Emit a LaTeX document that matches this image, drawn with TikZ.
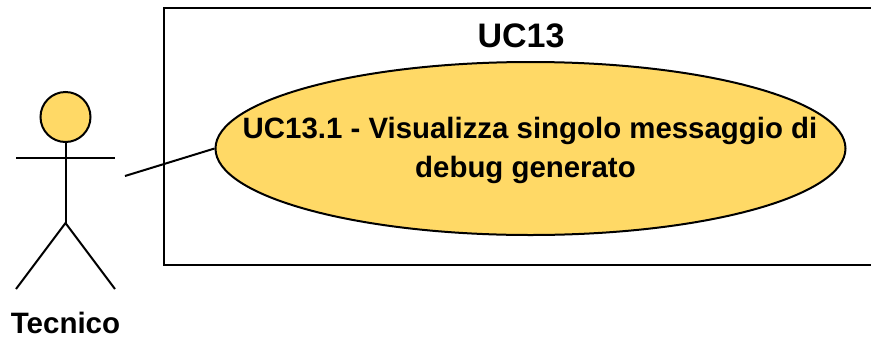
\documentclass[tikz,border=0pt]{standalone}
\usepackage{fontspec}
\setmainfont{Liberation Sans}
\usetikzlibrary{shapes.geometric}
\definecolor{ucfill}{HTML}{FFD966}
\begin{document}
\begin{tikzpicture}[
		x=1pt,
		y=-1pt,
		line width=2pt,
		every node/.style={font=\bfseries, inner sep=0pt},
		actor part/.style={draw=black, fill=ucfill},
		use case/.style={draw=black, fill=ucfill, ellipse, minimum width=630pt, minimum height=173pt},
		case label/.style={align=center, font=\bfseries\fontsize{29.4}{39}\selectfont},
		box label/.style={font=\bfseries\fontsize{34}{40}\selectfont},
		actor label/.style={font=\bfseries\fontsize{29.5}{34}\selectfont}
		]
	\useasboundingbox (0, 0) rectangle (871, 338);
	
	% System box
	\draw (871, 7.5) -- (163.5, 7.5) -- (163.5, 265) -- (871, 265);
	\node[box label] (boxname) at (521, 36) {UC13};
	
	% Actor
	\draw[actor part] (65.5, 117) circle (25);
	\draw (65.5, 142) -- (65.5, 223);
	\draw (16, 158) -- (115, 158);
	\draw (16, 289) -- (65.5, 223) -- (115, 289);
	\node[actor label] (tecnico) at (65.5, 323) {Tecnico};
	\coordinate (actorhand) at (125, 176);
	
	% Use case
	\node[use case] (uc) at (530.5, 148.5) {};
	\node[case label] (uctext) at (530, 150) {UC13.1 - Visualizza singolo messaggio di\\debug generato\hspace*{9pt}};
	
	% Link
	\draw (actorhand) -- (uc.west);
\end{tikzpicture}
\end{document}
